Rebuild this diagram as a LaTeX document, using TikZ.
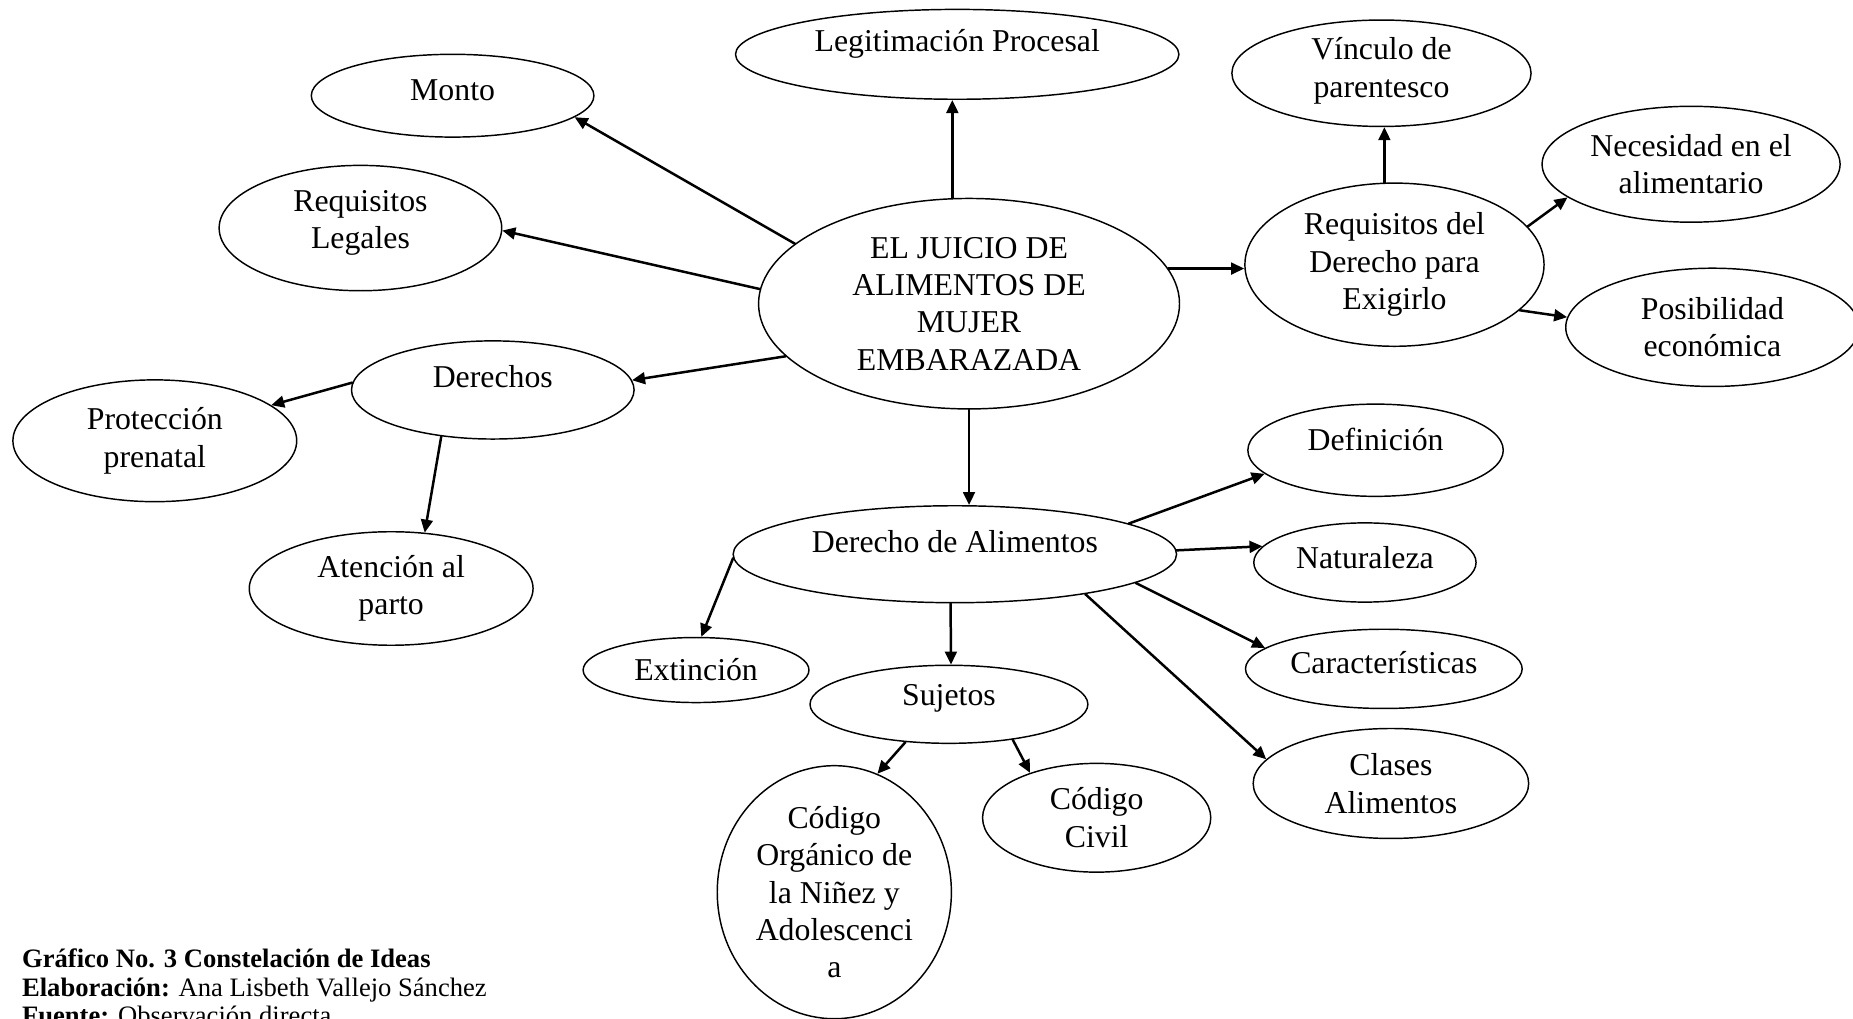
\documentclass[tikz,border=0pt]{standalone}
\usepackage{fontspec}
\setmainfont{Liberation Serif}
\usetikzlibrary{arrows.meta,shapes.geometric}

\begin{document}
\begin{tikzpicture}[x=0.01cm,y=-0.01cm,line join=round,line cap=round,
		>={Triangle[length=1.1mm,width=1mm]},
		font=\fontsize{7.65}{9}\selectfont,
		oval/.style 2 args={ellipse,draw,line width=0.35pt,inner sep=0pt,align=center,minimum width=#1,minimum height=#2},
		arr/.style={->,line width=0.6pt},
		pie/.style={anchor=base west,inner sep=0pt,font=\fontsize{6.4}{6.9}\selectfont}]
	\useasboundingbox (0,0) rectangle (1568,862);
	% centro
	\node[oval={3.56cm}{1.78cm}] (juicio) at (820,257) {EL JUICIO DE\\ALIMENTOS DE\\MUJER\\EMBARAZADA};
	% izquierda y arriba
	\node[oval={3.75cm}{0.76cm},text depth=0.24cm] (legit) at (810,46) {Legitimación Procesal};
	\node[oval={2.39cm}{0.70cm},text depth=0.10cm] (monto) at (383,81) {Monto};
	\node[oval={2.39cm}{1.06cm},text depth=0.15cm] (reqleg) at (305,193) {Requisitos\\Legales};
	\node[oval={2.39cm}{0.83cm},text depth=0.22cm] (derechos) at (417,330) {Derechos};
	\node[oval={2.40cm}{1.03cm}] (prot) at (131,373) {Protección\\prenatal};
	\node[oval={2.40cm}{0.96cm}] (atencion) at (331,498) {Atención al\\parto};
	% derecha
	\node[oval={2.53cm}{1.38cm}] (reqder) at (1180,224) {Requisitos del\\Derecho para\\Exigirlo};
	\node[oval={2.53cm}{0.90cm},text depth=0.10cm] (vinculo) at (1169,62) {Vínculo de\\parentesco};
	\node[oval={2.52cm}{0.98cm}] (necesidad) at (1431,139) {Necesidad en el\\alimentario};
	\node[oval={2.48cm}{1.00cm}] (posib) at (1449,277) {Posibilidad\\económica};
	% abajo
	\node[oval={3.75cm}{0.82cm},text depth=0.22cm] (dalim) at (808,469) {Derecho de Alimentos};
	\node[oval={2.16cm}{0.78cm},text depth=0.19cm] (defin) at (1164,381) {Definición};
	\node[oval={1.88cm}{0.67cm},text depth=0.08cm] (natur) at (1155,476) {Naturaleza};
	\node[oval={2.34cm}{0.67cm},text depth=0.10cm] (caract) at (1171,566) {Características};
	\node[oval={2.33cm}{0.93cm}] (clases) at (1177,663) {Clases\\Alimentos};
	\node[oval={1.91cm}{0.55cm}] (extin) at (589,567) {Extinción};
	\node[oval={2.35cm}{0.66cm},text depth=0.16cm] (sujetos) at (803,596) {Sujetos};
	\node[oval={1.98cm}{2.14cm}] (codorg) at (706,755) {Código\\Orgánico de\\la Niñez y\\Adolescenci\\a};
	\node[oval={1.93cm}{0.92cm}] (codciv) at (928,692) {Código\\Civil};
	% flechas
	\draw[arr] (juicio.99.4) -- (juicio.99.4 |- legit.south);
	\draw[arr] (juicio.161.3) -- (monto.-10.2);
	\draw[arr] (juicio.176.1) -- (reqleg.-1.4);
	\draw[arr] (juicio.196.6) -- (derechos.4.1);
	\draw[arr] (derechos.177.9) -- (prot.17.2);
	\draw[arr] (derechos.-138.6) -- (atencion.59.1);
	\draw[arr] (juicio.10.1) -- (juicio.10.1 -| reqder.west);
	\draw[arr] (reqder.97.4) -- (reqder.97.4 |- vinculo.south);
	\draw[arr] (reqder.16.2) -- (necesidad.195.4);
	\draw[arr] (reqder.-20.3) -- (posib.176.2);
	\draw[arr] (juicio.south) -- (juicio.south |- dalim.north);
	\draw[arr] (dalim.10.1) -- (defin.192.7);
	\draw[arr] (dalim.1.8) -- (natur.171.6);
	\draw[arr] (dalim.-9.6) -- (caract.170.6);
	\draw[arr] (dalim.-17.7) -- (clases.169.8);
	\draw[arr] (dalim.181.4) -- (extin.81.3);
	\draw[arr] (dalim.265.2) -- (sujetos.87.4);
	\draw[arr] (sujetos.221.8) -- (codorg.70.1);
	\draw[arr] (sujetos.-29.4) -- (codciv.146.4);
	% pie
	\node[pie] (grafico) at (18,819) {\textbf{Gráfico No. 3 Constelación de Ideas}};
	\node[pie] (elab) at (18,843) {\textbf{Elaboración:} Ana Lisbeth Vallejo Sánchez};
	\node[pie] (fuente) at (18,867) {\textbf{Fuente:} Observación directa};
\end{tikzpicture}
\end{document}
